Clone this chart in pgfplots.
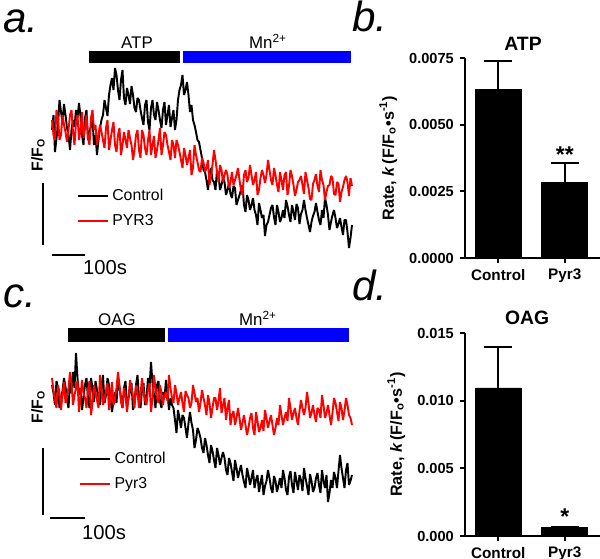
\documentclass[border=0pt]{standalone}
\usepackage{pgfplots}
\pgfplotsset{compat=1.18}
\usepackage{pgfplotstable}
\usepackage{fontspec}
\setmainfont{Liberation Sans}

% traces: time (s), F/F0 control, F/F0 Pyr3
\pgfplotstableread{
t ctrl pyr
0 1.000 1.010
4.5 1.015 0.995
9 0.978 0.990
13.5 0.992 1.020
18 1.005 1.012
22.5 1.030 0.990
27 1.018 0.995
31.5 1.008 1.015
36 1.026 1.005
40.5 1.015 0.998
45 1.002 0.988
49.5 0.995 1.000
54 0.980 1.015
58.5 1.000 1.020
63 1.010 0.998
67.5 1.003 0.985
72 1.020 1.008
76.5 1.012 1.015
81 1.027 0.990
85.5 1.014 1.000
90 0.995 1.018
94.5 0.985 0.992
99 1.012 1.002
103.5 1.020 1.015
108 0.990 0.992
112.5 0.998 0.985
117 1.004 1.012
121.5 1.010 1.020
126 0.985 1.000
130.5 0.995 1.005
135 0.975 0.985
139.5 0.990 0.995
144 1.002 1.005
148.5 1.010 0.998
153 1.015 0.990
157.5 1.030 0.982
162 1.022 1.002
166.5 1.014 1.010
171 1.035 0.980
175.5 1.045 0.990
180 1.052 1.000
184.5 1.040 1.008
189 1.062 0.985
193.5 1.055 0.978
198 1.040 0.995
202.5 1.030 1.002
207 1.050 0.975
211.5 1.060 0.985
216 1.032 0.998
220.5 1.025 0.990
225 1.042 0.982
229.5 1.035 1.000
234 1.026 0.992
238.5 1.044 0.985
243 1.035 0.970
247.5 1.022 0.980
252 1.018 0.995
256.5 1.032 1.000
261 1.030 0.980
265.5 1.020 0.972
270 1.012 1.000
274.5 1.005 0.995
279 1.025 0.982
283.5 1.030 0.975
288 1.008 0.990
292.5 1.000 1.000
297 1.022 0.975
301.5 1.030 0.985
306 1.015 0.994
310.5 1.010 0.972
315 1.028 0.980
319.5 1.020 0.990
324 1.010 1.002
328.5 1.002 0.975
333 1.020 0.985
337.5 1.028 0.998
342 1.005 0.995
346.5 1.015 0.985
351 1.025 0.978
355.5 1.003 0.970
360 1.012 0.990
364.5 1.020 0.985
369 1.000 0.972
373.5 1.010 0.990
378 1.030 0.985
382.5 1.040 0.978
387 1.045 0.970
391.5 1.055 0.962
396 1.035 0.982
400.5 1.040 0.975
405 1.048 0.965
409.5 1.035 0.972
414 1.018 0.980
418.5 1.025 0.955
423 1.010 0.962
427.5 1.005 0.985
432 0.998 0.975
436.5 0.990 0.968
441 0.988 0.960
445.5 0.980 0.958
450 0.972 0.972
454.5 0.960 0.968
459 0.958 0.958
463.5 0.950 0.962
468 0.940 0.970
472.5 0.955 0.945
477 0.962 0.954
481.5 0.950 0.965
486 0.948 0.980
490.5 0.940 0.970
495 0.960 0.958
499.5 0.955 0.948
504 0.940 0.965
508.5 0.945 0.960
513 0.952 0.948
517.5 0.948 0.955
522 0.935 0.960
526.5 0.940 0.955
531 0.947 0.942
535.5 0.936 0.948
540 0.932 0.958
544.5 0.944 0.945
549 0.942 0.950
553.5 0.925 0.955
558 0.930 0.962
562.5 0.935 0.950
567 0.940 0.940
571.5 0.945 0.935
576 0.925 0.955
580.5 0.918 0.960
585 0.935 0.948
589.5 0.930 0.952
594 0.920 0.965
598.5 0.925 0.955
603 0.932 0.945
607.5 0.920 0.950
612 0.915 0.958
616.5 0.905 0.935
621 0.927 0.940
625.5 0.920 0.952
630 0.912 0.960
634.5 0.915 0.955
639 0.894 0.947
643.5 0.905 0.955
648 0.908 0.970
652.5 0.915 0.960
657 0.922 0.950
661.5 0.925 0.945
666 0.913 0.962
670.5 0.905 0.955
675 0.925 0.945
679.5 0.918 0.938
684 0.908 0.958
688.5 0.912 0.950
693 0.920 0.940
697.5 0.912 0.955
702 0.930 0.958
706.5 0.924 0.935
711 0.915 0.944
715.5 0.908 0.960
720 0.925 0.954
724.5 0.918 0.945
729 0.910 0.934
733.5 0.926 0.940
738 0.922 0.948
742.5 0.906 0.950
747 0.916 0.954
751.5 0.920 0.945
756 0.930 0.936
760.5 0.920 0.958
765 0.912 0.950
769.5 0.905 0.942
774 0.898 0.931
778.5 0.908 0.930
783 0.914 0.946
787.5 0.918 0.950
792 0.927 0.956
796.5 0.918 0.944
801 0.910 0.938
805.5 0.905 0.960
810 0.920 0.950
814.5 0.912 0.945
819 0.932 0.930
823.5 0.925 0.938
828 0.915 0.944
832.5 0.900 0.945
837 0.908 0.954
841.5 0.915 0.952
846 0.920 0.936
850.5 0.912 0.935
855 0.902 0.948
859.5 0.906 0.946
864 0.912 0.928
868.5 0.903 0.938
873 0.895 0.943
877.5 0.910 0.950
882 0.910 0.954
886.5 0.898 0.948
891 0.882 0.934
895.5 0.892 0.952
900 0.905 0.944
}\traceATP

\pgfplotstableread{
t ctrl pyr
0 1.008 1.015
4.5 1.000 1.002
9 0.988 0.993
13.5 1.012 0.985
18 1.005 1.008
22.5 0.985 1.000
27 0.995 0.983
31.5 1.002 0.998
36 1.015 1.011
40.5 1.006 0.990
45 0.993 0.998
49.5 0.985 1.005
54 1.011 1.021
58.5 1.000 1.010
63 1.021 0.988
67.5 1.005 0.998
72 1.040 1.005
76.5 1.015 1.012
81 0.998 0.981
85.5 1.005 0.995
90 0.983 1.013
94.5 0.995 1.000
99 1.008 0.995
103.5 1.015 0.985
108 0.995 1.003
112.5 0.985 1.012
117 1.015 0.978
121.5 1.005 0.990
126 0.991 1.008
130.5 1.012 1.000
135 1.003 0.993
139.5 0.995 0.985
144 0.988 1.018
148.5 1.005 1.005
153 1.018 0.988
157.5 0.990 0.995
162 0.998 1.001
166.5 1.015 1.010
171 1.008 0.983
175.5 0.995 0.995
180 0.981 1.011
184.5 0.992 0.988
189 1.001 0.995
193.5 0.990 1.005
198 1.013 1.021
202.5 1.005 1.008
207 0.995 0.991
211.5 0.985 0.985
216 1.005 1.005
220.5 1.012 0.998
225 0.988 0.981
229.5 0.995 0.995
234 1.001 1.013
238.5 1.010 1.005
243 0.983 0.997
247.5 0.990 0.985
252 1.008 1.008
256.5 1.018 1.000
261 0.995 0.985
265.5 0.985 0.998
270 1.003 1.015
274.5 1.010 1.002
279 0.988 0.993
283.5 0.995 0.988
288 1.015 1.003
292.5 1.005 1.010
297 1.031 0.981
301.5 1.010 0.995
306 0.998 1.018
310.5 0.985 1.005
315 1.008 0.995
319.5 1.012 0.990
324 0.991 1.008
328.5 0.985 1.000
333 1.001 0.988
337.5 0.995 0.998
342 1.013 1.001
346.5 1.000 0.992
351 0.983 1.018
355.5 0.995 1.005
360 0.988 0.995
364.5 0.985 0.990
369 0.973 1.008
373.5 0.960 1.000
378 0.983 0.988
382.5 0.975 0.995
387 0.965 1.001
391.5 0.978 0.990
396 0.975 0.981
400.5 0.965 1.002
405 0.955 0.998
409.5 0.970 0.995
414 0.981 0.985
418.5 0.970 0.990
423 0.963 1.008
427.5 0.945 1.000
432 0.953 0.991
436.5 0.965 0.995
441 0.961 0.981
445.5 0.955 0.990
450 0.945 1.003
454.5 0.940 0.995
459 0.955 0.988
463.5 0.948 0.978
468 0.938 0.998
472.5 0.930 0.990
477 0.948 0.975
481.5 0.942 0.985
486 0.933 0.995
490.5 0.925 0.995
495 0.945 0.983
499.5 0.938 0.992
504 0.928 1.005
508.5 0.935 0.980
513 0.941 0.988
517.5 0.935 0.995
522 0.923 0.973
526.5 0.918 0.985
531 0.935 0.993
535.5 0.930 0.968
540 0.921 0.978
544.5 0.912 0.982
549 0.933 0.968
553.5 0.925 0.975
558 0.915 0.985
562.5 0.922 0.975
567 0.928 0.963
571.5 0.918 0.970
576 0.911 0.978
580.5 0.905 0.968
585 0.925 0.958
589.5 0.918 0.965
594 0.908 0.975
598.5 0.915 0.980
603 0.923 0.965
607.5 0.905 0.958
612 0.913 0.981
616.5 0.918 0.972
621 0.901 0.961
625.5 0.910 0.965
630 0.918 0.973
634.5 0.898 0.962
639 0.907 0.983
643.5 0.912 0.975
648 0.923 0.965
652.5 0.915 0.972
657 0.905 0.978
661.5 0.900 0.968
666 0.917 0.958
670.5 0.912 0.965
675 0.901 0.975
679.5 0.908 0.968
684 0.915 0.988
688.5 0.905 0.978
693 0.923 0.968
697.5 0.915 0.975
702 0.903 0.981
706.5 0.898 0.972
711 0.916 0.995
715.5 0.922 0.985
720 0.908 0.973
724.5 0.900 0.980
729 0.921 0.985
733.5 0.912 0.975
738 0.903 0.968
742.5 0.918 0.982
747 0.913 0.993
751.5 0.902 0.985
756 0.925 0.978
760.5 0.915 0.985
765 0.907 1.001
769.5 0.898 0.990
774 0.919 0.975
778.5 0.912 0.980
783 0.901 0.988
787.5 0.905 0.978
792 0.915 0.971
796.5 0.920 0.985
801 0.908 0.983
805.5 0.900 0.975
810 0.923 0.998
814.5 0.912 0.988
819 0.905 0.975
823.5 0.918 0.980
828 0.891 0.988
832.5 0.900 0.978
837 0.913 0.968
841.5 0.905 0.980
846 0.921 0.995
850.5 0.915 0.990
855 0.905 0.981
859.5 0.922 0.972
864 0.938 0.991
868.5 0.925 0.985
873 0.915 0.973
877.5 0.905 0.982
882 0.923 0.995
886.5 0.930 0.988
891 0.908 0.978
895.5 0.912 0.975
900 0.918 0.968
}\traceOAG

\pgfplotsset{
  trace/.style={
    anchor=south west, scale only axis, width=6cm,
    xmin=0, xmax=900, hide axis, clip=false,
    legend cell align=left,
    legend image code/.code={\draw[##1, line width=1.2pt] (0cm,0cm) -- (0.6cm,0cm);},
    legend style={draw=none, fill=none, anchor=north west, inner sep=0pt,
      font=\fontsize{9}{10}\selectfont, row sep=2.5pt},
  },
  tr/.style={line width=1.1pt, line join=bevel},
  rate/.style={
    anchor=south west, scale only axis, width=2.7cm,
    xmin=0.5, xmax=2.53, ymin=0,
    axis x line=bottom, axis y line=left,
    axis line style={line width=1.2pt, -},
    xtick={1,2}, xticklabels={Control,Pyr3},
    tick align=outside, major tick length=0.1cm,
    tick style={line width=1.2pt, black},
    scaled y ticks=false,
    /pgf/number format/assume math mode=true,
    yticklabel style={font=\bfseries\fontsize{8.3}{10}\selectfont},
    xticklabel style={font=\bfseries\fontsize{8.7}{10}\selectfont},
    ylabel={Rate, \textit{k}\,(F/F\textsubscript{o}•s\textsuperscript{-1})},
    ylabel style={font=\bfseries\fontsize{9.2}{10}\selectfont},
    title style={font=\bfseries\fontsize{11}{12}\selectfont, anchor=south, yshift=-5pt},
  },
  ratebar/.style={
    ybar, bar width=0.92cm, fill=black, draw=black,
    error bars/.cd, y dir=plus, y explicit,
    error bar style={line width=1.2pt},
    error mark options={rotate=90, mark size=0.28cm, line width=1.2pt},
  },
}

\begin{document}
\begin{tikzpicture}
% 1 px of the 600x559 reference = 0.02cm
\path[use as bounding box] (0,0) rectangle (12cm,-11.18cm);

% panel letters
\begin{scope}[every node/.style={anchor=base west, inner sep=0pt,
    font=\fontsize{24}{28}\selectfont\itshape}]
\node at (0.06cm,-0.66cm) {a.};
\node at (7.04cm,-0.64cm) {b.};
\node at (0.06cm,-6.16cm) {c.};
\node at (7.04cm,-6.02cm) {d.};
\end{scope}

% ---- a. ATP trace
\begin{axis}[trace, at={(1.04cm,-5.6cm)}, height=5cm, ymin=0.850, ymax=1.100,
  legend style={at={(axis cs:73,0.945)}}]
\addplot[black, tr] table[x=t, y=ctrl] {\traceATP};
\addlegendentry{Control}
\addplot[red, tr] table[x=t, y=pyr] {\traceATP};
\addlegendentry{PYR3}
\fill[black] (axis cs:111,1.067) rectangle (axis cs:384,1.079);
\fill[blue] (axis cs:393,1.067) rectangle (axis cs:897,1.079);
\node[anchor=south, inner sep=1pt, font=\fontsize{9.6}{11}\selectfont] at (axis cs:255,1.079) {ATP};
\node[anchor=south, inner sep=1pt, font=\fontsize{9.6}{11}\selectfont] at (axis cs:648,1.079) {Mn\textsuperscript{2+}};
\draw[line width=1.1pt] (axis cs:-27,0.947) -- (axis cs:-27,0.885);
\draw[line width=1.1pt] (axis cs:0,0.875) -- (axis cs:99,0.875);
\node[font=\fontsize{11.5}{12}\selectfont] at (axis cs:159,0.862) {100s};
\node[rotate=90, font=\bfseries\fontsize{9}{10}\selectfont] at (axis cs:-42,0.975) {F/F\textsubscript{O}};
\end{axis}

% ---- b. ATP rate
\begin{axis}[rate, at={(9.3cm,-5.16cm)}, height=4cm, ymax=0.0075,
  ytick={0,0.0025,0.005,0.0075},
  yticklabels={0.0000,0.0025,0.0050,0.0075},
  title={ATP}, title style={at={(rel axis cs:0.43,1)}}]
\addplot[ratebar] coordinates {
  (1,0.00633) +- (0,0.00107)
  (2,0.00285) +- (0,0.00071)
};
\node[anchor=south, inner sep=1pt, font=\bfseries\fontsize{13}{14}\selectfont] at (axis cs:2,0.00352) {**};
\end{axis}

% ---- c. OAG trace
\begin{axis}[trace, at={(1.04cm,-10.9cm)}, height=4.8cm, ymin=0.848, ymax=1.088,
  legend style={at={(axis cs:80,0.945)}}]
\addplot[black, tr] table[x=t, y=ctrl] {\traceOAG};
\addlegendentry{Control}
\addplot[red, tr] table[x=t, y=pyr] {\traceOAG};
\addlegendentry{Pyr3}
\fill[black] (axis cs:48,1.051) rectangle (axis cs:339,1.065);
\fill[blue] (axis cs:348,1.051) rectangle (axis cs:891,1.065);
\node[anchor=south, inner sep=1pt, font=\fontsize{9.6}{11}\selectfont] at (axis cs:195,1.065) {OAG};
\node[anchor=south, inner sep=1pt, font=\fontsize{9.6}{11}\selectfont] at (axis cs:618,1.065) {Mn\textsuperscript{2+}};
\draw[line width=1.1pt] (axis cs:-27,0.945) -- (axis cs:-27,0.878);
\draw[line width=1.1pt] (axis cs:-6,0.875) -- (axis cs:99,0.875);
\node[font=\fontsize{11.5}{12}\selectfont] at (axis cs:156,0.860) {100s};
\node[rotate=90, font=\bfseries\fontsize{9}{10}\selectfont] at (axis cs:-42,0.986) {F/F\textsubscript{O}};
\end{axis}

% ---- d. OAG rate
\begin{axis}[rate, at={(9.3cm,-10.72cm)}, height=4.06cm, ymax=0.015,
  ytick={0,0.005,0.01,0.015},
  yticklabels={0.000,0.005,0.010,0.015},
  title={OAG}, title style={at={(rel axis cs:0.46,1)}}]
\addplot[ratebar] coordinates {
  (1,0.01094) +- (0,0.00303)
  (2,0.00066) +- (0,0)
};
\node[anchor=south, inner sep=1pt, font=\bfseries\fontsize{13}{14}\selectfont] at (axis cs:2,0.00066) {*};
\end{axis}
\end{tikzpicture}
\end{document}
